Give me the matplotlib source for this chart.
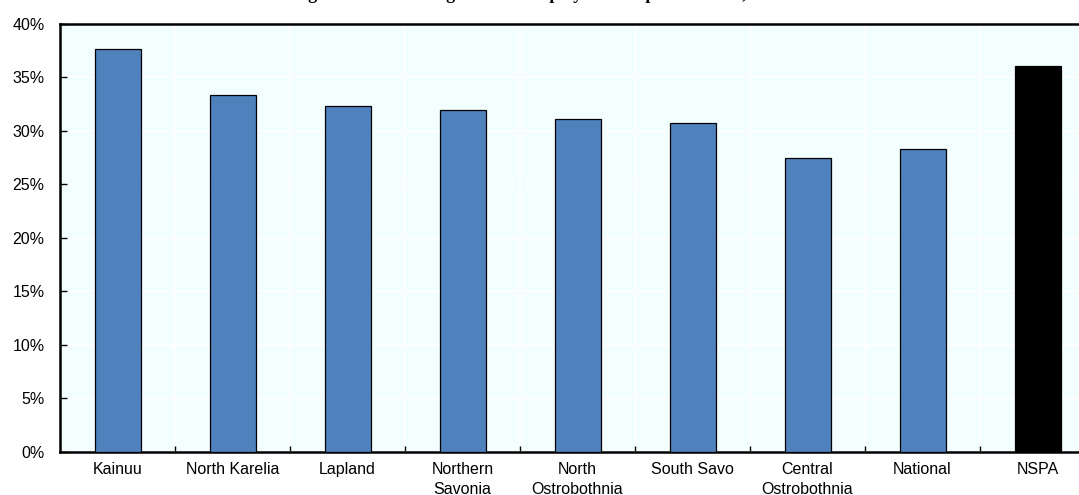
import matplotlib
matplotlib.use('Agg')
import matplotlib.pyplot as plt
import numpy as np
from matplotlib.ticker import FuncFormatter, MultipleLocator

# 各地区公共部门就业占比（%）
regions = ['Kainuu', 'North Karelia', 'Lapland', 'Northern\nSavonia',
           'North\nOstrobothnia', 'South Savo', 'Central\nOstrobothnia',
           'National', 'NSPA']
share = [37.6, 33.3, 32.3, 31.9, 31.1, 30.7, 27.4, 28.3, 36.0]
colors = ['#4F81BD'] * 8 + ['#000000']

title = 'Figure 2.5. Percentage of total employment in public sector, 2013'

plt.rcParams['font.family'] = ['Liberation Sans', 'DejaVu Sans']

W, H = 1079, 495
fig = plt.figure(figsize=(W / 100, H / 100), dpi=100)
# 绘图区从左侧 60px 开始，右侧超出画布
ax = fig.add_axes([60 / W, (H - 452) / H, 1035 / W, (452 - 23.5) / H])
ax.set_facecolor('#F2FEFF')

x = np.arange(len(regions))
ax.bar(x, share, width=0.4, color=colors, edgecolor='black', linewidth=0.9, zorder=3)

ax.set_xlim(-0.5, len(regions) - 0.5)
ax.set_ylim(0, 40)

# 网格线：白色，横向按 5%，纵向按类别分隔
ax.yaxis.set_major_locator(MultipleLocator(5))
ax.yaxis.set_major_formatter(FuncFormatter(lambda v, p: f'{v:.0f}%'))
ax.set_xticks(x)
ax.set_xticklabels(regions, linespacing=1.4)
ax.set_xticks(x[:-1] + 0.5, minor=True)
ax.grid(True, axis='y', color='white', linewidth=1.2, zorder=0)
ax.grid(True, axis='x', which='minor', color='white', linewidth=1.2, zorder=0)

ax.tick_params(axis='y', direction='in', length=5, width=1, pad=11, labelsize=11.5)
ax.tick_params(axis='x', which='major', length=0, pad=7, labelsize=11.5)
ax.tick_params(axis='x', which='minor', direction='in', length=4, width=1)

for side in ['left', 'bottom', 'top']:
    ax.spines[side].set_linewidth(1.8)
    ax.spines[side].set_color('black')
ax.spines['right'].set_visible(False)

# 标题（位于画布顶部之外，只露出下缘）
fig.text(0.5, 1 + 1 / H, title, ha='center', va='baseline',
         fontsize=13, fontweight='bold', family=['Liberation Serif', 'DejaVu Serif'])

plt.savefig('out.png', dpi=100)
